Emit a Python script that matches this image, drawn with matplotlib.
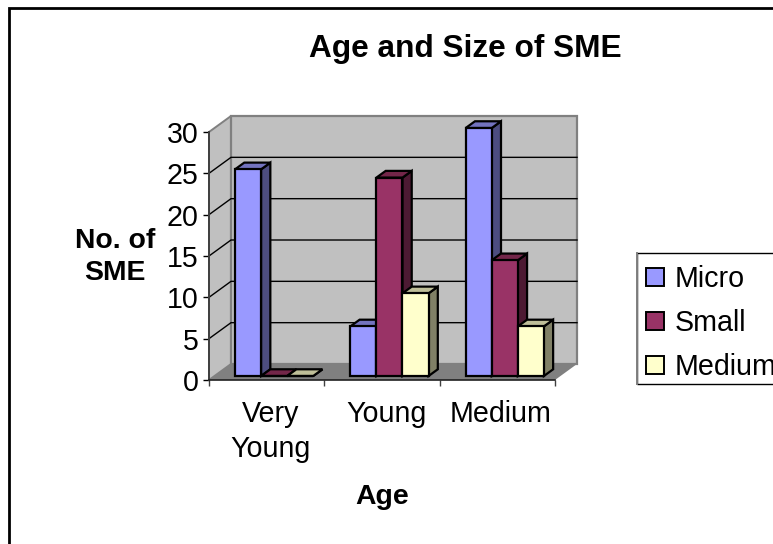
import numpy as np
import matplotlib
matplotlib.use('Agg')
import matplotlib.pyplot as plt
from matplotlib.patches import Polygon, Patch, Rectangle
from matplotlib.lines import Line2D

plt.rcParams['font.family'] = ['Liberation Sans', 'DejaVu Sans']

# Data
categories = ['Very\nYoung', 'Young', 'Medium']
series_names = ['Micro', 'Small', 'Medium']
micro = [25, 6, 30]
small = [0, 24, 14]
medium = [0, 10, 6]
y_ticks = [0, 5, 10, 15, 20, 25, 30]

series = [micro, small, medium]
front_colors = ['#9999FF', '#993366', '#FFFFCC']
side_colors = ['#4D4D80', '#4D1A33', '#808066']
top_colors = ['#7373BF', '#732649', '#BFBF99']

W, H = 773, 544
fig = plt.figure(figsize=(W / 100, H / 100), dpi=100)

# plot area in pixels of the front face
left, right, top, bottom = 209, 555, 132, 380
ax = fig.add_axes([left / W, 1 - bottom / H, (right - left) / W, (bottom - top) / H])
ax.set_xlim(0, 3)
ax.set_ylim(0, 30)
ax.patch.set_visible(False)

# 3d look, depth of the box and of the bars in data units
depth_x = 22 / 115.3
depth_y = 16 / 8.27
bar_w = 0.226
bar_start = 0.178
inset = 0.25
bar_depth = 0.42


def poly(pts, fc, ec='none', lw=0, z=1):
    ax.add_patch(Polygon(pts, closed=True, facecolor=fc, edgecolor=ec, linewidth=lw,
                         zorder=z, clip_on=False, joinstyle='miter'))


# walls and floor
poly([(0, 0), (3, 0), (3 + depth_x, depth_y), (depth_x, depth_y)], '#808080')
poly([(0, 0), (depth_x, depth_y), (depth_x, 30 + depth_y), (0, 30)], '#C0C0C0', '#808080', 1.4)
poly([(depth_x, depth_y), (3 + depth_x, depth_y), (3 + depth_x, 30 + depth_y), (depth_x, 30 + depth_y)],
     '#C0C0C0', '#808080', 1.6)

for v in y_ticks[1:-1]:
    ax.plot([0, depth_x, 3 + depth_x], [v, v + depth_y, v + depth_y], color='black', lw=1,
            zorder=1.5, clip_on=False, solid_joinstyle='miter')

# bars
dx0 = inset * depth_x
dy0 = inset * depth_y
ddx = bar_depth * depth_x
ddy = bar_depth * depth_y
for c in range(len(categories)):
    for s, vals in enumerate(series):
        x0 = c + bar_start + dx0 + s * bar_w
        x1 = x0 + bar_w
        y0 = dy0
        y1 = dy0 + vals[c]
        z = 2 + c + s * 0.1
        poly([(x1, y0), (x1 + ddx, y0 + ddy), (x1 + ddx, y1 + ddy), (x1, y1)], side_colors[s], 'black', 1.6, z)
        poly([(x0, y1), (x1, y1), (x1 + ddx, y1 + ddy), (x0 + ddx, y1 + ddy)], top_colors[s], 'black', 1.6, z)
        poly([(x0, y0), (x1, y0), (x1, y1), (x0, y1)], front_colors[s], 'black', 1.6, z)

# axes
for name in ['top', 'right']:
    ax.spines[name].set_visible(False)
ax.spines['left'].set_color('#404040')
ax.spines['left'].set_linewidth(1.4)
ax.spines['bottom'].set_color('#202020')
ax.spines['bottom'].set_linewidth(1.2)
ax.set_yticks(y_ticks)
ax.tick_params(axis='y', labelsize=20.6, length=4.5, width=1, pad=3)
ax.set_xticks(range(4))
ax.set_xticklabels([])
ax.tick_params(axis='x', which='major', length=4.5, width=1, color='#404040')
ax.set_xticks([0.53, 1.54, 2.53], minor=True)
ax.set_xticklabels(categories, minor=True, fontsize=20.6, linespacing=1.33)
ax.tick_params(axis='x', which='minor', length=0, pad=14.5)

# texts
fig.text(465 / W, 1 - 49 / H, 'Age and Size of SME', fontsize=22.8, fontweight='bold', ha='center', va='center')
fig.text(115 / W, 1 - 257 / H, 'No. of\nSME', fontsize=20.4, fontweight='bold', ha='center', va='center', linespacing=1.3)
fig.text(382 / W, 1 - 497 / H, 'Age', fontsize=20.4, fontweight='bold', ha='center', va='center')

# outer frame, runs off the right and bottom edge
fig.add_artist(Line2D([9 / W, 9 / W, 1.01], [-0.01, 1 - 8 / H, 1 - 8 / H], transform=fig.transFigure,
                      color='black', lw=2, solid_joinstyle='miter'))

# legend box, also runs off the right edge
fig.add_artist(Rectangle((637 / W, 1 - 384 / H), 0.2, 131 / H, transform=fig.transFigure,
                         facecolor='white', edgecolor='black', linewidth=1, zorder=1))
fig.add_artist(Line2D([637 / W, 637 / W], [1 - 384 / H, 1 - 253 / H], transform=fig.transFigure,
                      color='#808080', lw=1.4, zorder=1.1))
handles = [Patch(facecolor=c, edgecolor='black', linewidth=1.4) for c in front_colors]
leg = fig.legend(handles, series_names, loc='upper left', bbox_to_anchor=(637 / W, 1 - 256 / H),
                 bbox_transform=fig.transFigure, fontsize=20.6, frameon=False,
                 handlelength=0.6, handleheight=0.6, handletextpad=0.38,
                 labelspacing=0.55, borderaxespad=0, borderpad=0.33)

fig.savefig('out.png', dpi=100)
